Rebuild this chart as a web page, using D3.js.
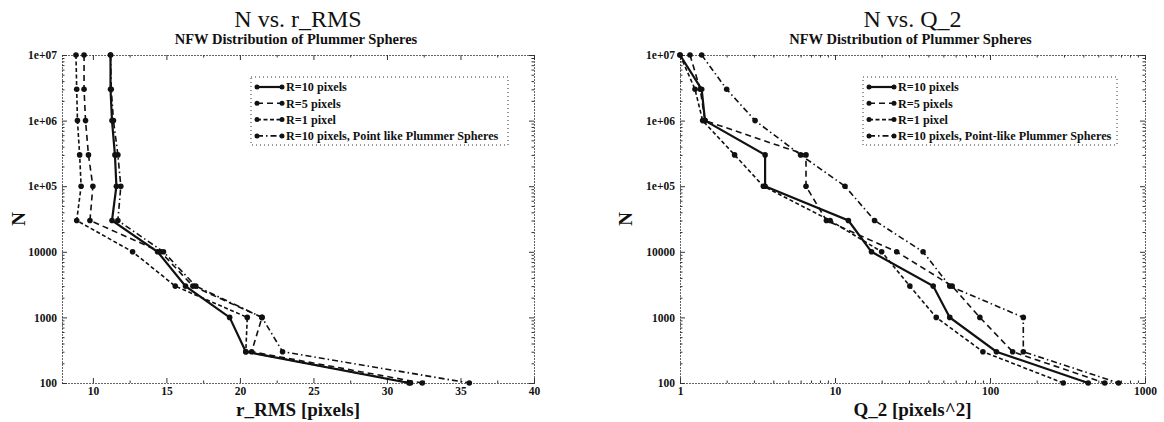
<!doctype html>
<html>
<head>
<script src="https://cdnjs.cloudflare.com/ajax/libs/d3/7.8.5/d3.min.js"></script>
<style>
  body { margin: 0; background: #fff; }
  svg text { fill: #111; }
  .title { font-size: 24px; text-anchor: middle; }
  .subtitle { font-size: 14.5px; font-weight: bold; text-anchor: middle; }
  .axlabel { font-size: 19px; font-weight: bold; text-anchor: middle; }
  .tick text { font-size: 11.5px; font-weight: bold; }
  .domain { stroke: #333; stroke-dasharray: 1,2; }
  .tick line { stroke: #333; }
  .series { fill: none; stroke: #111; }
  .legend text { font-size: 12.2px; font-weight: bold; }
</style>
</head>
<body>
<svg width="1164" height="422"></svg>
<script>
// particle counts shared by all runs
var nVals = [1e7, 3e6, 1e6, 3e5, 1e5, 3e4, 1e4, 3e3, 1e3, 300, 100];

// r_RMS [pixels]
var rmsR10   = [11.2, 11.2, 11.3, 11.5, 11.6, 11.3, 14.4, 16.3, 19.3, 20.4, 31.5];
var rmsR5    = [9.4, 9.4, 9.5, 9.7, 10.0, 9.8, 14.6, 16.8, 21.5, 20.8, 32.4];
var rmsR1    = [8.85, 8.9, 8.95, 9.1, 9.2, 8.9, 12.7, 15.6, 20.5, 20.4, 31.6];
var rmsPoint = [11.2, 11.25, 11.4, 11.7, 11.9, 11.7, 14.8, 17.0, 21.5, 22.9, 35.6];

// Q_2 [pixels^2]
var q2R10   = [1.0, 1.38, 1.45, 3.54, 3.54, 12.2, 17.2, 43, 55, 110, 430];
var q2R5    = [1.16, 1.35, 1.45, 6.5, 6.5, 8.8, 25, 57, 86, 140, 550];
var q2R1    = [1.0, 1.25, 1.4, 2.25, 3.45, 9.3, 20, 30.4, 45, 90, 297];
var q2Point = [1.38, 2.0, 3.05, 6.0, 11.6, 18, 37, 55, 164, 164, 675];

var seriesNames = ["R=10 pixels", "R=5 pixels", "R=1 pixel", "R=10 pixels, Point like Plummer Spheres"];
var seriesNames2 = ["R=10 pixels", "R=5 pixels", "R=1 pixel", "R=10 pixels, Point-like Plummer Spheres"];
var dashes = [null, "6,4", "4,2.5", "6,3,1.5,3"];
var widths = [2.2, 1.6, 1.6, 1.6];

var svg = d3.select("svg");

function drawPanel(opt) {
  var x = opt.x, y = opt.y;
  var g = svg.append("g");
  var x0 = x.range()[0], x1 = x.range()[1], y0 = y.range()[0], y1 = y.range()[1];

  g.append("text").attr("class", "title").attr("x", (x0 + x1) / 2).attr("y", 27).text(opt.title);
  g.append("text").attr("class", "subtitle").attr("x", (x0 + x1) / 2 - 2).attr("y", 44)
    .text("NFW Distribution of Plummer Spheres");

  // frame + ticks
  var yTicks = [100, 1000, 10000, 1e5, 1e6, 1e7];
  var yMinor = y.ticks().filter(d => yTicks.indexOf(d) < 0);
  g.append("g").attr("transform", "translate(" + x0 + ",0)")
    .call(d3.axisLeft(y).tickValues(yTicks).tickSizeInner(-5).tickSizeOuter(0).tickPadding(5)
      .tickFormat(d => d >= 1e5 ? "1e+0" + Math.round(Math.log10(d)) : d));
  g.append("g").attr("transform", "translate(" + x0 + ",0)")
    .call(d3.axisLeft(y).tickValues(yMinor).tickSizeInner(-2.5).tickSizeOuter(0).tickFormat(""));
  g.append("g").attr("transform", "translate(" + x1 + ",0)")
    .call(d3.axisRight(y).tickValues(yTicks).tickSizeInner(-5).tickSizeOuter(0).tickFormat(""));
  g.append("g").attr("transform", "translate(" + x1 + ",0)")
    .call(d3.axisRight(y).tickValues(yMinor).tickSizeInner(-2.5).tickSizeOuter(0).tickFormat(""));

  g.append("g").attr("transform", "translate(0," + y0 + ")")
    .call(d3.axisBottom(x).tickValues(opt.xTicks).tickSizeInner(-5).tickSizeOuter(0).tickPadding(4)
      .tickFormat(opt.xFormat));
  g.append("g").attr("transform", "translate(0," + y0 + ")")
    .call(d3.axisBottom(x).tickValues(opt.xMinor).tickSizeInner(-2.5).tickSizeOuter(0).tickFormat(""));
  g.append("g").attr("transform", "translate(0," + y1 + ")")
    .call(d3.axisTop(x).tickValues(opt.xTicks).tickSizeInner(-5).tickSizeOuter(0).tickFormat(""));
  g.append("g").attr("transform", "translate(0," + y1 + ")")
    .call(d3.axisTop(x).tickValues(opt.xMinor).tickSizeInner(-2.5).tickSizeOuter(0).tickFormat(""));

  g.append("text").attr("class", "axlabel").attr("x", (x0 + x1) / 2).attr("y", 416).text(opt.xLabel);
  g.append("text").attr("class", "axlabel")
    .attr("transform", "translate(" + opt.nX + ",219) rotate(-90)").attr("dy", "0.35em").text("N");

  var line = d3.line().x(d => x(d[0])).y(d => y(d[1]));
  opt.data.forEach(function(vals, i) {
    var pts = vals.map((v, j) => [v, nVals[j]]);
    g.append("path").attr("class", "series").attr("d", line(pts))
      .attr("stroke-width", widths[i]).attr("stroke-dasharray", dashes[i]);
    g.selectAll(null).data(pts).enter().append("circle")
      .attr("cx", d => x(d[0])).attr("cy", d => y(d[1])).attr("r", 2.8).attr("fill", "#111");
  });

  // legend
  var lg = g.append("g").attr("class", "legend").attr("transform", "translate(" + opt.legX + ",77)");
  lg.append("rect").attr("x", 0).attr("y", 0).attr("width", opt.legW).attr("height", 68)
    .attr("fill", "none").attr("stroke", "#333").attr("stroke-dasharray", "1,3");
  opt.names.forEach(function(name, i) {
    var yy = 10 + i * 16.3;
    lg.append("line").attr("x1", 6).attr("x2", 31).attr("y1", yy).attr("y2", yy)
      .attr("stroke", "#111").attr("stroke-width", widths[i]).attr("stroke-dasharray", dashes[i]);
    lg.append("circle").attr("cx", 6).attr("cy", yy).attr("r", 2.5).attr("fill", "#111");
    lg.append("circle").attr("cx", 31).attr("cy", yy).attr("r", 2.5).attr("fill", "#111");
    lg.append("text").attr("x", 35).attr("y", yy).attr("dy", "0.35em").text(name);
  });
}

var xr = d3.scaleLinear().domain([7.9, 40]).range([62, 534]);
var yr = d3.scaleLog().domain([100, 1e7]).range([383, 55]);
drawPanel({
  x: xr, y: yr, title: "N vs. r_RMS", xLabel: "r_RMS [pixels]",
  xTicks: [10, 15, 20, 25, 30, 35, 40], xMinor: [12.5, 17.5, 22.5, 27.5, 32.5, 37.5],
  xFormat: d => d, nX: 18, legX: 251, legW: 257,
  names: seriesNames, data: [rmsR10, rmsR5, rmsR1, rmsPoint]
});

var xq = d3.scaleLog().domain([1, 1000]).range([680, 1145]);
var yq = d3.scaleLog().domain([100, 1e7]).range([383, 55]);
drawPanel({
  x: xq, y: yq, title: "N vs. Q_2", xLabel: "Q_2 [pixels^2]",
  xTicks: [1, 10, 100, 1000], xMinor: xq.ticks().filter(d => [1, 10, 100, 1000].indexOf(d) < 0),
  xFormat: d => d, nX: 625, legX: 863, legW: 254,
  names: seriesNames2, data: [q2R10, q2R5, q2R1, q2Point]
});

// serif everywhere, including the axis tick labels
svg.selectAll("text").style("font-family", "'Liberation Serif'");
</script>
</body>
</html>
